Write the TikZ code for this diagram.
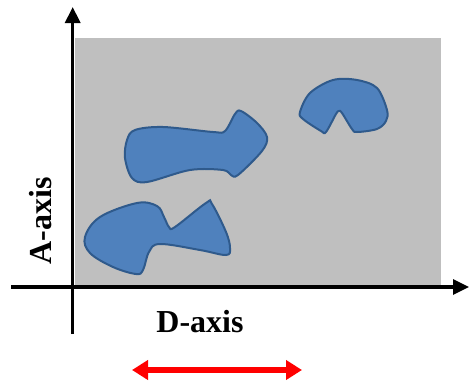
\documentclass[tikz,border=0pt]{standalone}
\usepackage{fontspec}
\setmainfont{Liberation Serif}
\usetikzlibrary{arrows.meta}
\definecolor{panel}{HTML}{BFBFBF}
\definecolor{blobfill}{HTML}{4F81BD}
\definecolor{blobline}{HTML}{2F5A8C}
\tikzset{
  axisline/.style={line width=3.3pt,-{Triangle[width=15pt,length=16pt]}},
  blob/.style={fill=blobfill,draw=blobline,line width=2pt},
  axislabel/.style={font=\fontsize{32}{32}\selectfont\bfseries,inner sep=0pt},
  redrange/.style={red,line width=6pt,{Triangle[width=19pt,length=16pt]}-{Triangle[width=19pt,length=16pt]}}
}
\begin{document}
\begin{tikzpicture}[x=1pt,y=-1pt]
\useasboundingbox (0,0) rectangle (469,383);
\fill[panel] (75,38) rectangle (441,285);
% blobs
\draw[blob] plot[smooth cycle,tension=0.6] coordinates {
  (85,237) (100,217) (137,203) (157,206) (164,217) (169,227) (175,227) (206,203) (212,204)
  (226,232) (230,248) (226,255) (200,250) (160,244) (149,252) (143,270) (136,274)
  (113,267) (90,253)};
\draw[blob] plot[smooth cycle,tension=0.55] coordinates {
  (125,158) (127,140) (135,130) (163,127) (213,132) (225,131) (235,114) (241,111)
  (257,123) (267,137) (262,151) (238,175) (231,175) (223,170) (190,170)
  (147,182) (132,178)};
\draw[blob] plot[smooth cycle,tension=0.55] coordinates {
  (300,112) (310,93) (333,80) (357,80) (377,88) (387,110) (386,121) (377,129)
  (357,132) (352,129) (342,113) (339,111) (336,114) (326,132) (321,131) (303,119)};
% axes
\coordinate (yb) at (72.7,334);
\coordinate (yt) at (72.7,7);
\coordinate (xl) at (11,287);
\coordinate (xr) at (469,287);
\draw[axisline] (yb) -- (yt);
\draw[axisline] (xl) -- (xr);
\node[axislabel,rotate=90] (alab) at (41,221) {A-axis};
\node[axislabel] (dlab) at (200,322) {D-axis};
\coordinate (rl) at (132,370);
\coordinate (rr) at (302,370);
\draw[redrange] (rl) -- (rr);
\end{tikzpicture}
\end{document}
